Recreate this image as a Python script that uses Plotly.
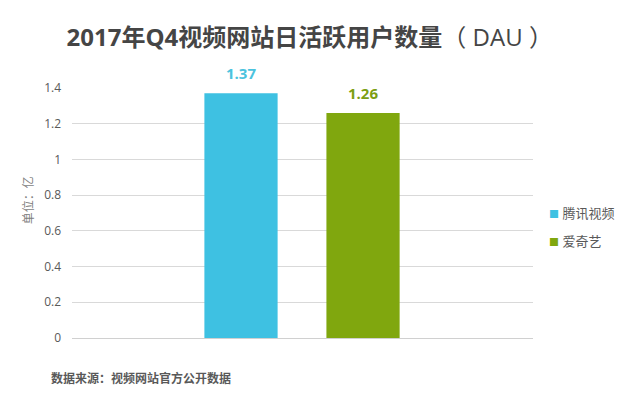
import plotly.graph_objects as go

categories = ["腾讯视频", "爱奇艺"]
values = [1.37, 1.26]
colors = ["#3EC1E2", "#80A70E"]
label_colors = ["#4BC3DE", "#7C9E12"]
y_ticks = [0, 0.2, 0.4, 0.6, 0.8, 1, 1.2, 1.4]
y_tick_text = ["0", "0.2", "0.4", "0.6", "0.8", "1", "1.2", "1.4"]

FONT = "Open Sans, Noto Sans CJK SC, sans-serif"

fig = go.Figure()
for i, (c, v) in enumerate(zip(categories, values)):
    fig.add_trace(go.Bar(
        x=[c], y=[v], name=c, width=0.6,
        marker=dict(color=colors[i], line=dict(width=0)),
        showlegend=False,
    ))
    fig.add_annotation(
        x=c, y=v, text="<b>%.2f</b>" % v, showarrow=False,
        yanchor="bottom", yshift=8,
        font=dict(family=FONT, size=15, color=label_colors[i]),
    )
    # legend entries
    fig.add_annotation(
        xref="paper", yref="paper", x=1.03, y=0.5 - i * 0.112,
        text="<span style='color:%s;font-size:10px'>■</span> %s" % (colors[i], c),
        showarrow=False, xanchor="left", yanchor="middle",
        font=dict(family=FONT, size=13, color="#595959"),
    )

fig.update_layout(
    width=640, height=398,
    margin=dict(l=72, r=107, t=88, b=60, autoexpand=False),
    paper_bgcolor="white", plot_bgcolor="white",
    barmode="overlay",
    font=dict(family=FONT, color="#595959"),
    showlegend=False,
    title=dict(
        text="<b>2017年Q4视频网站日活跃用户数量</b>（ DAU ）",
        x=0.484, xanchor="center", y=0.905, yanchor="middle",
        font=dict(family=FONT, size=24, color="#454545"),
    ),
)

fig.update_xaxes(
    type="category", categoryorder="array", categoryarray=categories,
    range=[-1.385, 2.393], showticklabels=False, showgrid=False,
    zeroline=False, showline=False, ticks="", automargin=False,
)
fig.update_yaxes(
    range=[0, 1.4], tickvals=y_ticks, ticktext=y_tick_text,
    showgrid=True, gridcolor="#D9D9D9", gridwidth=1,
    zeroline=True, zerolinecolor="#D0D0D0", zerolinewidth=1,
    showline=False, ticks="", ticklabelstandoff=10, automargin=False,
    tickfont=dict(family=FONT, size=12, color="#595959"),
)

fig.add_annotation(
    xref="paper", yref="paper", x=-0.095, y=0.552,
    text="单位：亿", textangle=-90, showarrow=False,
    font=dict(family=FONT, size=12, color="#7F7F7F"),
    xanchor="center", yanchor="middle",
)
fig.add_annotation(
    xref="paper", yref="paper", x=-0.05, y=-0.16,
    text="<b>数据来源：视频网站官方公开数据</b>", showarrow=False,
    font=dict(family=FONT, size=12, color="#595959"),
    xanchor="left", yanchor="middle",
)

fig.write_html("out.html", config={"displayModeBar": False},
               post_script="document.body.style.margin='0';")
